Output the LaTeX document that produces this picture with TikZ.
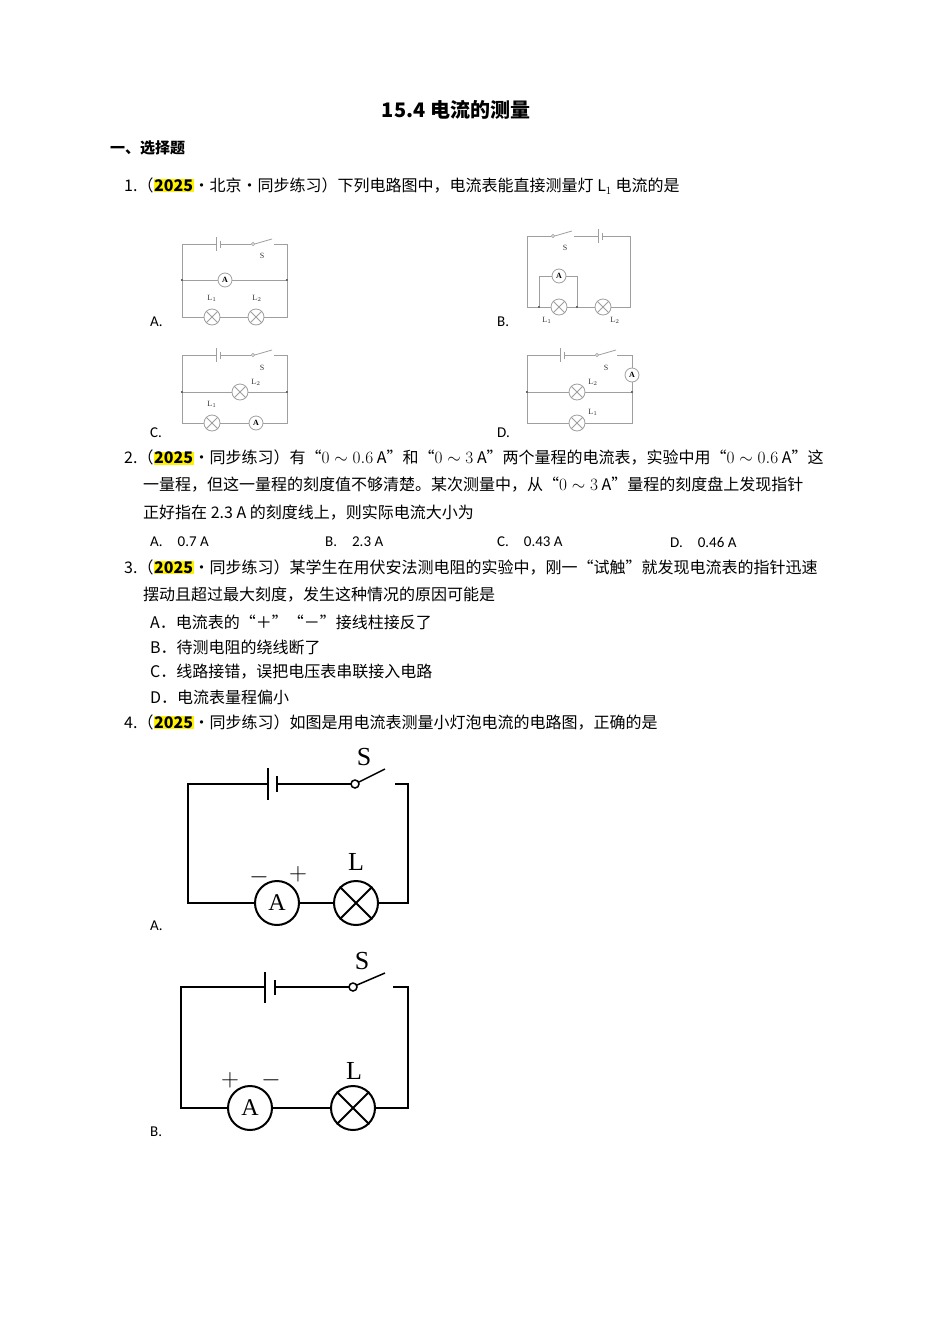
\documentclass[tikz,border=0pt]{standalone}
\usepackage{fontspec}
\setmainfont{Noto Sans CJK SC}
\newfontfamily\latinfont{Carlito}
\newfontfamily\cktfont{Liberation Serif}
\usetikzlibrary{positioning, calc}
\colorlet{wiregray}{gray!75}

% battery (at x=#1) and switch (at x=#2) on a top wire at y=#3
\newcommand{\batsw}[3]{%
  \draw[wiregray, line width=0.8pt] (#1-2,#3-7) -- (#1-2,#3+7) (#1+2,#3-3.5) -- (#1+2,#3+3.5);
  \draw[wiregray, line width=0.8pt] (#2,#3) circle (1.6) (#2+1.6,#3) -- (#2+19,#3-5);}
\newcommand{\hl}[1]{{\fboxsep=0.6pt\colorbox{yellow}{\textbf{#1}}}}

\begin{document}
\begin{tikzpicture}[x=1pt, y=-1pt,
  line/.style={anchor=west, inner sep=0pt, font=\fontsize{16}{18}\selectfont},
  opt/.style={anchor=west, inner sep=0pt, font=\latinfont\fontsize{15}{18}\selectfont},
  wire/.style={wiregray, line width=0.8pt},
  bigwire/.style={black, line width=2pt},
  lamp/.style={circle, draw=wiregray, line width=0.8pt, minimum size=#1, inner sep=0pt, fill=white},
  meter/.style={circle, draw=wiregray, line width=0.8pt, minimum size=#1, inner sep=0pt, fill=white, font=\cktfont\bfseries\fontsize{8}{8}\selectfont},
  biglamp/.style={circle, draw=black, line width=2pt, minimum size=44pt, inner sep=0pt, fill=white},
  bigmeter/.style={circle, draw=black, line width=2pt, minimum size=44pt, inner sep=0pt, fill=white, font=\cktfont\fontsize{24}{24}\selectfont},
  clabel/.style={inner sep=0pt, text=black!80, font=\cktfont\fontsize{8}{8}\selectfont},
  blabel/.style={inner sep=0pt, font=\cktfont\fontsize{26}{26}\selectfont},
  dot/.style={circle, fill=black!80, inner sep=0pt, minimum size=2.2pt}]
\useasboundingbox (0,0) rectangle (950,1344);

% Text

\node[inner sep=0pt, font=\bfseries\fontsize{20}{22}\selectfont] (title) at (456,110) {15.4 电流的测量};
\node[line, font=\bfseries\fontsize{15}{18}\selectfont] (sec) at (110,148) {一、选择题};

\node[line] (q1) at (124,186) {1.（\hl{2025}·北京·同步练习）下列电路图中，电流表能直接测量灯 $\mathrm{L}_1$ 电流的是};

\node[line] (q2a) at (124,458) {2.（\hl{2025}·同步练习）有“$0\sim0.6$ A”和“$0\sim3$ A”两个量程的电流表，实验中用“$0\sim0.6$ A”这};
\node[line] (q2b) at (143,485) {一量程，但这一量程的刻度值不够清楚。某次测量中，从“$0\sim3$ A”量程的刻度盘上发现指针};
\node[line] (q2c) at (143,513) {正好指在 2.3 A 的刻度线上，则实际电流大小为};
\node[opt] (q2A) at (150,542) {A.\quad 0.7 A};
\node[opt] (q2B) at (325,542) {B.\quad 2.3 A};
\node[opt] (q2C) at (497,542) {C.\quad 0.43 A};
\node[opt] (q2D) at (670,542) {D.\quad 0.46 A};

\node[line] (q3a) at (124,567) {3.（\hl{2025}·同步练习）某学生在用伏安法测电阻的实验中，刚一“试触”就发现电流表的指针迅速};
\node[line] (q3b) at (143,595) {摆动且超过最大刻度，发生这种情况的原因可能是};
\node[line] (q3A) at (150,622) {A．电流表的“＋”“－”接线柱接反了};
\node[line] (q3B) at (150,647) {B．待测电阻的绕线断了};
\node[line] (q3C) at (150,672) {C．线路接错，误把电压表串联接入电路};
\node[line] (q3D) at (150,697) {D．电流表量程偏小};

\node[line] (q4) at (124,722) {4.（\hl{2025}·同步练习）如图是用电流表测量小灯泡电流的电路图，正确的是};

\node[opt] (c1A) at (150,322) {A.};
\node[opt] (c1B) at (497,322) {B.};
\node[opt] (c1C) at (150,433) {C.};
\node[opt] (c1D) at (497,433) {D.};
\node[opt] (c4A) at (150,926) {A.};
\node[opt] (c4B) at (150,1132) {B.};

% Circuit 1A

\node[lamp=16pt] (aL1) at (212,317) {};
\node[lamp=16pt] (aL2) at (256,317) {};
\node[meter=14pt] (aA) at (225,280) {A};
\node[dot] (aML) at (182,280) {};
\node[dot] (aMR) at (287,280) {};
\draw[wire] (216,244) -| (aML) |- (aL1) -- (aL2) -| (aMR) |- (274,244) (220,244) -- (251.4,244);
\draw[wire] (aML) -- (aA) -- (aMR);
\batsw{218}{253}{244}
\foreach \l in {aL1, aL2} \draw[wire] (\l.45) -- (\l.225) (\l.135) -- (\l.315);
\node[clabel] (aS) at (262,256) {S};
\node[clabel] (aT1) at (212,298) {L$_1$};
\node[clabel] (aT2) at (257,298) {L$_2$};

% Circuit 1B

\node[lamp=16pt] (bL1) at (559,307) {};
\node[lamp=16pt] (bL2) at (603,307) {};
\node[meter=14pt] (bA) at (559,276) {A};
\node[dot] (bJ1) at (539,307) {};
\node[dot] (bJ2) at (577,307) {};
\draw[wire] (551.4,236) -| (527,307) -- (bJ1) -- (bL1) -- (bJ2) -- (bL2) -| (630,236) -- (602,236) (598,236) -- (574,236);
\draw[wire] (bJ1) |- (bA) -| (bJ2);
\batsw{600}{553}{236}
\foreach \l in {bL1, bL2} \draw[wire] (\l.45) -- (\l.225) (\l.135) -- (\l.315);
\node[clabel] (bS) at (565,248) {S};
\node[clabel] (bT1) at (547,320) {L$_1$};
\node[clabel] (bT2) at (615,320) {L$_2$};

% Circuit 1C

\node[lamp=16pt] (cL2) at (240,392) {};
\node[lamp=16pt] (cL1) at (212,423) {};
\node[meter=14pt] (cA) at (256,423) {A};
\node[dot] (cML) at (182,392) {};
\node[dot] (cMR) at (287,392) {};
\draw[wire] (216,355) -| (cML) |- (cL1) -- (cA) -| (cMR) |- (274,355) (220,355) -- (251.4,355);
\draw[wire] (cML) -- (cL2) -- (cMR);
\batsw{218}{253}{355}
\foreach \l in {cL1, cL2} \draw[wire] (\l.45) -- (\l.225) (\l.135) -- (\l.315);
\node[clabel] (cS) at (262,368) {S};
\node[clabel] (cT2) at (256,382) {L$_2$};
\node[clabel] (cT1) at (212,404) {L$_1$};

% Circuit 1D

\node[lamp=16pt] (dL2) at (577,392) {};
\node[lamp=16pt] (dL1) at (577,423) {};
\node[meter=14pt] (dA) at (632,375) {A};
\node[dot] (dML) at (527,392) {};
\node[dot] (dMR) at (632,392) {};
\draw[wire] (560,355) -| (dML) |- (dL1) -| (dMR) -- (dA) |- (617,355) (564,355) -- (595.4,355);
\draw[wire] (dML) -- (dL2) -- (dMR);
\batsw{562}{597}{355}
\foreach \l in {dL1, dL2} \draw[wire] (\l.45) -- (\l.225) (\l.135) -- (\l.315);
\node[clabel] (dS) at (606,368) {S};
\node[clabel] (dT2) at (593,382) {L$_2$};
\node[clabel] (dT1) at (593,412) {L$_1$};

% Circuit 4A

\node[bigmeter] (eA) at (277,903) {A};
\node[biglamp] (eL) at (356,903) {};
\draw[bigwire] (268,784) -| (188,903) -- (eA) -- (eL) -| (408,784) -- (395,784);
\draw[bigwire] (268,768) -- (268,800) (277,776) -- (277,792);
\draw[bigwire] (277,784) -- (351,784);
\draw[black, line width=1.5pt] (355,784) circle (4) (359,782) -- (385,769);
\draw[bigwire] (eL.45) -- (eL.225) (eL.135) -- (eL.315);
\node[blabel] (eS) at (364,757) {S};
\node[blabel] (eT) at (356,862) {L};
\node[blabel] (em) at (259,877) {$-$};
\node[blabel] (ep) at (298,874) {$+$};

% Circuit 4B

\node[bigmeter] (fA) at (250,1108) {A};
\node[biglamp] (fL) at (353,1108) {};
\draw[bigwire] (265,987) -| (181,1108) -- (fA) -- (fL) -| (408,987) -- (393,987);
\draw[bigwire] (265,972) -- (265,1003) (275,980) -- (275,995);
\draw[bigwire] (275,987) -- (349,987);
\draw[black, line width=1.5pt] (353,987) circle (4) (357,985) -- (385,973);
\draw[bigwire] (fL.45) -- (fL.225) (fL.135) -- (fL.315);
\node[blabel] (fS) at (362,961) {S};
\node[blabel] (fT) at (354,1071) {L};
\node[blabel] (fp) at (230,1080) {$+$};
\node[blabel] (fm) at (271,1080) {$-$};

\end{tikzpicture}
\end{document}
